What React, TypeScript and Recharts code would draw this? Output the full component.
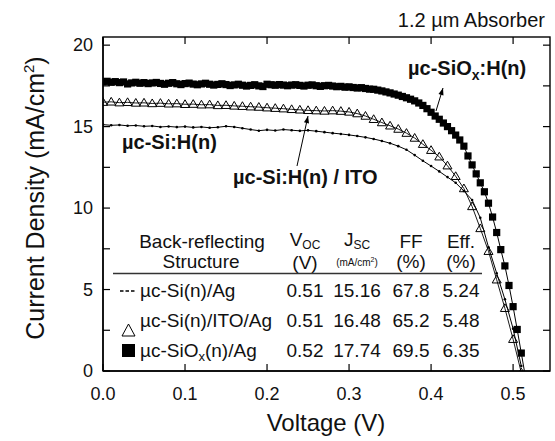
import { LineChart, Line, XAxis, YAxis } from "recharts";

const FONT = '"Liberation Sans", Arial, Helvetica, sans-serif';
const PLOT_W = 447;
const PLOT_H = 334;

// voltage grids of the measured points (V)
const V_10 = [
  0.0, 0.01, 0.02, 0.03, 0.04, 0.05, 0.06, 0.07, 0.08, 0.09,
  0.1, 0.11, 0.12, 0.13, 0.14, 0.15, 0.16, 0.17, 0.18, 0.19,
  0.2, 0.21, 0.22, 0.23, 0.24, 0.25, 0.26, 0.27, 0.28, 0.29,
  0.3, 0.31, 0.32, 0.33, 0.34, 0.35, 0.36, 0.37, 0.38, 0.39,
  0.4, 0.41, 0.42, 0.43, 0.44, 0.45, 0.46, 0.47, 0.48, 0.49,
  0.5, 0.51,
];

const V_5 = [
  0.0, 0.005, 0.01, 0.015, 0.02, 0.025, 0.03, 0.035, 0.04, 0.045,
  0.05, 0.055, 0.06, 0.065, 0.07, 0.075, 0.08, 0.085, 0.09, 0.095,
  0.1, 0.105, 0.11, 0.115, 0.12, 0.125, 0.13, 0.135, 0.14, 0.145,
  0.15, 0.155, 0.16, 0.165, 0.17, 0.175, 0.18, 0.185, 0.19, 0.195,
  0.2, 0.205, 0.21, 0.215, 0.22, 0.225, 0.23, 0.235, 0.24, 0.245,
  0.25, 0.255, 0.26, 0.265, 0.27, 0.275, 0.28, 0.285, 0.29, 0.295,
  0.3, 0.305, 0.31, 0.315, 0.32, 0.325, 0.33, 0.335, 0.34, 0.345,
  0.35, 0.355, 0.36, 0.365, 0.37, 0.375, 0.38, 0.385, 0.39, 0.395,
  0.4, 0.405, 0.41, 0.415, 0.42, 0.425, 0.43, 0.435, 0.44, 0.445,
  0.45, 0.455, 0.46, 0.465, 0.47, 0.475, 0.48, 0.485, 0.49, 0.495,
  0.5, 0.505, 0.51, 0.515,
];

// current density (mA/cm2)
const J_SI_AG = [
  15.12, 15.08, 15.1, 15.05, 15.07, 15.02, 15.04, 14.98, 15.01, 14.97,
  15.0, 14.95, 14.98, 14.93, 14.96, 15.02, 14.98, 14.9, 14.82, 14.75,
  14.8, 14.76, 14.82, 14.78, 14.74, 14.77, 14.72, 14.66, 14.6, 14.55,
  14.49, 14.42, 14.34, 14.24, 14.12, 13.98, 13.8, 13.58, 13.25, 12.9,
  12.58, 12.25, 11.9, 11.55, 11.05, 10.5, 9.4, 7.6, 6.0, 4.4,
  2.6, 0.3,
];

const J_ITO_AG = [
  16.5, 16.52, 16.47, 16.49, 16.45, 16.46, 16.42, 16.44, 16.4, 16.41,
  16.37, 16.38, 16.34, 16.35, 16.3, 16.31, 16.27, 16.25, 16.22, 16.2,
  16.16, 16.13, 16.1, 16.06, 16.03, 16.0, 15.98, 15.96, 15.98, 15.95,
  15.9, 15.8, 15.65, 15.45, 15.25, 15.05, 14.85, 14.6, 14.3, 13.92,
  13.55, 13.15, 12.6, 11.95, 11.2, 10.1, 8.75, 7.35, 5.6, 3.85,
  1.95, -0.1,
];

const J_SIOX_AG = [
  17.75, 17.78, 17.72, 17.76, 17.7, 17.74, 17.62, 17.68, 17.72, 17.66,
  17.7, 17.64, 17.68, 17.71, 17.65, 17.6, 17.66, 17.7, 17.63, 17.58,
  17.64, 17.67, 17.61, 17.57, 17.62, 17.66, 17.6, 17.55, 17.59, 17.63,
  17.58, 17.52, 17.56, 17.6, 17.54, 17.49, 17.53, 17.57, 17.5, 17.46,
  17.6, 17.57, 17.54, 17.58, 17.55, 17.51, 17.55, 17.57, 17.53, 17.49,
  17.54, 17.56, 17.51, 17.47, 17.51, 17.53, 17.49, 17.45, 17.47, 17.42,
  17.44, 17.4, 17.37, 17.39, 17.34, 17.3, 17.29, 17.24, 17.19, 17.13,
  17.07, 17.0, 16.93, 16.85, 16.77, 16.68, 16.58, 16.45, 16.3, 16.1,
  15.88, 15.65, 15.45, 15.22, 15.0, 14.75, 14.48, 14.18, 13.8, 13.2,
  12.65, 12.1, 11.55, 11.0, 10.3, 9.45, 8.5, 7.45, 6.45, 5.25,
  3.95, 2.55, 1.1, -0.35,
];

const X_DOMAIN = [0, 0.545];
const Y_DOMAIN = [0, 20.5];
const X_TICKS = [0, 0.1, 0.2, 0.3, 0.4, 0.5];
const Y_TICKS = [0, 2.5, 5, 7.5, 10, 12.5, 15, 17.5, 20];

// table rows: Voc, Jsc, FF, Eff
const ROW_VOC = ["0.51", "0.51", "0.52"];
const ROW_JSC = ["15.16", "16.48", "17.74"];
const ROW_FF = ["67.8", "65.2", "69.5"];
const ROW_EFF = ["5.24", "5.48", "6.35"];

const toRows = (v: number[], j: number[]) => v.map((x, i) => ({ v: x, j: j[i] }));
const siData = toRows(V_10, J_SI_AG);
const itoData = toRows(V_10, J_ITO_AG);
const sioxData = toRows(V_5, J_SIOX_AG);

// inward ticks on bottom + mirrored on top
const BottomTick = (p: any) => (
  <g>
    <line x1={p.x} y1={p.y} x2={p.x} y2={p.y - 7} stroke="#000" strokeWidth={1.2} />
    <line x1={p.x} y1={p.y - PLOT_H} x2={p.x} y2={p.y - PLOT_H + 7} stroke="#000" strokeWidth={1.2} />
    <text x={p.x} y={p.y + 29} textAnchor="middle" fontSize={18} fontFamily={FONT} fill="#111">
      {Number(p.payload.value).toFixed(1)}
    </text>
  </g>
);

// inward ticks on left + mirrored on right
const LeftTick = (p: any) => {
  const v = Number(p.payload.value);
  return (
    <g>
      <line x1={p.x} y1={p.y} x2={p.x + 7} y2={p.y} stroke="#000" strokeWidth={1.2} />
      <line x1={p.x + PLOT_W} y1={p.y} x2={p.x + PLOT_W - 7} y2={p.y} stroke="#000" strokeWidth={1.2} />
      {v % 5 === 0 && (
        <text x={p.x - 10} y={p.y + 6} textAnchor="end" fontSize={18} fontFamily={FONT} fill="#111">
          {v}
        </text>
      )}
    </g>
  );
};

const SmallDot = (p: any) =>
  p.cx == null ? <g key={p.key} /> : <circle key={p.key} cx={p.cx} cy={p.cy} r={1.3} fill="#000" />;

const TriDot = (p: any) =>
  p.cx == null ? (
    <g key={p.key} />
  ) : (
    <path
      key={p.key}
      d={`M${p.cx},${p.cy - 4.5}L${p.cx + 4.5},${p.cy + 3.2}L${p.cx - 4.5},${p.cy + 3.2}Z`}
      fill="none"
      stroke="#000"
      strokeWidth={1}
    />
  );

const SquareDot = (p: any) =>
  p.cx == null ? (
    <g key={p.key} />
  ) : (
    <rect key={p.key} x={p.cx - 3.6} y={p.cy - 3.6} width={7.2} height={7.2} fill="#000" />
  );

function arrowHead(x1: number, y1: number, x2: number, y2: number) {
  const dx = x2 - x1;
  const dy = y2 - y1;
  const len = Math.hypot(dx, dy);
  const ux = dx / len;
  const uy = dy / len;
  const bx = x2 - ux * 7;
  const by = y2 - uy * 7;
  return `${x2},${y2} ${bx - uy * 2.6},${by + ux * 2.6} ${bx + uy * 2.6},${by - ux * 2.6}`;
}

function Overlay() {
  const t = { fontFamily: FONT, fill: "#111" };
  const rowsY = [297, 327, 357];
  return (
    <svg
      width={555}
      height={441}
      style={{ position: "absolute", left: 0, top: 0, pointerEvents: "none" }}
    >
      {/* plot frame */}
      <rect x={103} y={37} width={PLOT_W} height={PLOT_H} fill="none" stroke="#000" strokeWidth={1.4} />

      <text x={545} y={27} textAnchor="end" fontSize={20} {...t}>
        1.2 µm Absorber
      </text>
      <text x={326} y={431} textAnchor="middle" fontSize={24} {...t}>
        Voltage (V)
      </text>
      <text x={44} y={198} textAnchor="middle" fontSize={25} transform="rotate(-90 44 198)" {...t}>
        Current Density (mA/cm<tspan fontSize={15} dy={-10}>2</tspan>
        <tspan dy={10}>)</tspan>
      </text>

      {/* curve labels */}
      <text x={408} y={75} fontSize={20} fontWeight="bold" {...t}>
        µc-SiO<tspan fontSize={14} dy={5}>x</tspan>
        <tspan dy={-5}>:H(n)</tspan>
      </text>
      <line x1={436} y1={111} x2={443} y2={88} stroke="#000" strokeWidth={1} />
      <polygon points={arrowHead(436, 111, 443, 88)} fill="#000" />
      <text x={122} y={149} fontSize={20} fontWeight="bold" {...t}>
        µc-Si:H(n)
      </text>
      <text x={233} y={184} fontSize={20} fontWeight="bold" {...t}>
        µc-Si:H(n) / ITO
      </text>
      <line x1={297} y1={166} x2={308} y2={116} stroke="#000" strokeWidth={1} />
      <polygon points={arrowHead(297, 166, 308, 116)} fill="#000" />

      {/* table header */}
      <text x={202} y={248} textAnchor="middle" fontSize={19} {...t}>Back-reflecting</text>
      <text x={201} y={268} textAnchor="middle" fontSize={19} {...t}>Structure</text>
      <text x={305} y={246} textAnchor="middle" fontSize={19} {...t}>
        V<tspan fontSize={12} dy={3}>OC</tspan>
      </text>
      <text x={305} y={269} textAnchor="middle" fontSize={19} {...t}>(V)</text>
      <text x={357} y={246} textAnchor="middle" fontSize={19} {...t}>
        J<tspan fontSize={12} dy={3}>SC</tspan>
      </text>
      <text x={357} y={266} textAnchor="middle" fontSize={10} {...t}>
        (mA/cm<tspan fontSize={7} dy={-4}>2</tspan>
        <tspan dy={4}>)</tspan>
      </text>
      <text x={411} y={248} textAnchor="middle" fontSize={19} {...t}>FF</text>
      <text x={411} y={268} textAnchor="middle" fontSize={19} {...t}>(%)</text>
      <text x={461} y={248} textAnchor="middle" fontSize={19} {...t}>Eff.</text>
      <text x={461} y={268} textAnchor="middle" fontSize={19} {...t}>(%)</text>
      <line x1={113} y1={273.5} x2={482} y2={273.5} stroke="#333" strokeWidth={1.5} />

      {/* legend symbols */}
      <line x1={120} y1={291} x2={135} y2={291} stroke="#000" strokeWidth={1.6} strokeDasharray="3.5 2" />
      <path d="M122,336L135,336L128.5,324Z" fill="none" stroke="#000" strokeWidth={1} />
      <rect x={122} y={344} width={13} height={13} fill="#000" />

      <text x={140} y={rowsY[0]} fontSize={19} {...t}>µc-Si(n)/Ag</text>
      <text x={140} y={rowsY[1]} fontSize={19} {...t}>µc-Si(n)/ITO/Ag</text>
      <text x={140} y={rowsY[2]} fontSize={19} {...t}>
        µc-SiO<tspan fontSize={13} dy={4}>x</tspan>
        <tspan dy={-4}>(n)/Ag</tspan>
      </text>
      {rowsY.map((y, i) => (
        <g key={i}>
          <text x={305} y={y} textAnchor="middle" fontSize={19} {...t}>{ROW_VOC[i]}</text>
          <text x={357} y={y} textAnchor="middle" fontSize={19} {...t}>{ROW_JSC[i]}</text>
          <text x={411} y={y} textAnchor="middle" fontSize={19} {...t}>{ROW_FF[i]}</text>
          <text x={461} y={y} textAnchor="middle" fontSize={19} {...t}>{ROW_EFF[i]}</text>
        </g>
      ))}
    </svg>
  );
}

export default function App() {
  const axisLine = { stroke: "#000", strokeWidth: 1.4 };
  return (
    <div style={{ position: "absolute", left: 0, top: 0, width: 555, height: 441, background: "#fff" }}>
      <LineChart width={555} height={441} margin={{ top: 37, right: 5, bottom: 69, left: 102 }}>
        <XAxis
          xAxisId="b"
          dataKey="v"
          type="number"
          domain={X_DOMAIN}
          ticks={X_TICKS}
          interval={0}
          height={1}
          tickSize={0}
          tickMargin={0}
          tick={BottomTick}
          tickLine={false}
          axisLine={axisLine}
          allowDataOverflow
        />
        <YAxis
          yAxisId="l"
          type="number"
          domain={Y_DOMAIN}
          ticks={Y_TICKS}
          interval={0}
          width={1}
          tickSize={0}
          tickMargin={0}
          tick={LeftTick}
          tickLine={false}
          axisLine={axisLine}
          allowDataOverflow
        />
        <Line
          xAxisId="b"
          yAxisId="l"
          data={siData}
          dataKey="j"
          stroke="#000"
          strokeWidth={1}
          dot={SmallDot}
          isAnimationActive={false}
        />
        <Line
          xAxisId="b"
          yAxisId="l"
          data={itoData}
          dataKey="j"
          stroke="#000"
          strokeWidth={0.9}
          dot={TriDot}
          isAnimationActive={false}
        />
        <Line
          xAxisId="b"
          yAxisId="l"
          data={sioxData}
          dataKey="j"
          stroke="#000"
          strokeWidth={1}
          dot={SquareDot}
          isAnimationActive={false}
        />
      </LineChart>
      <Overlay />
    </div>
  );
}
